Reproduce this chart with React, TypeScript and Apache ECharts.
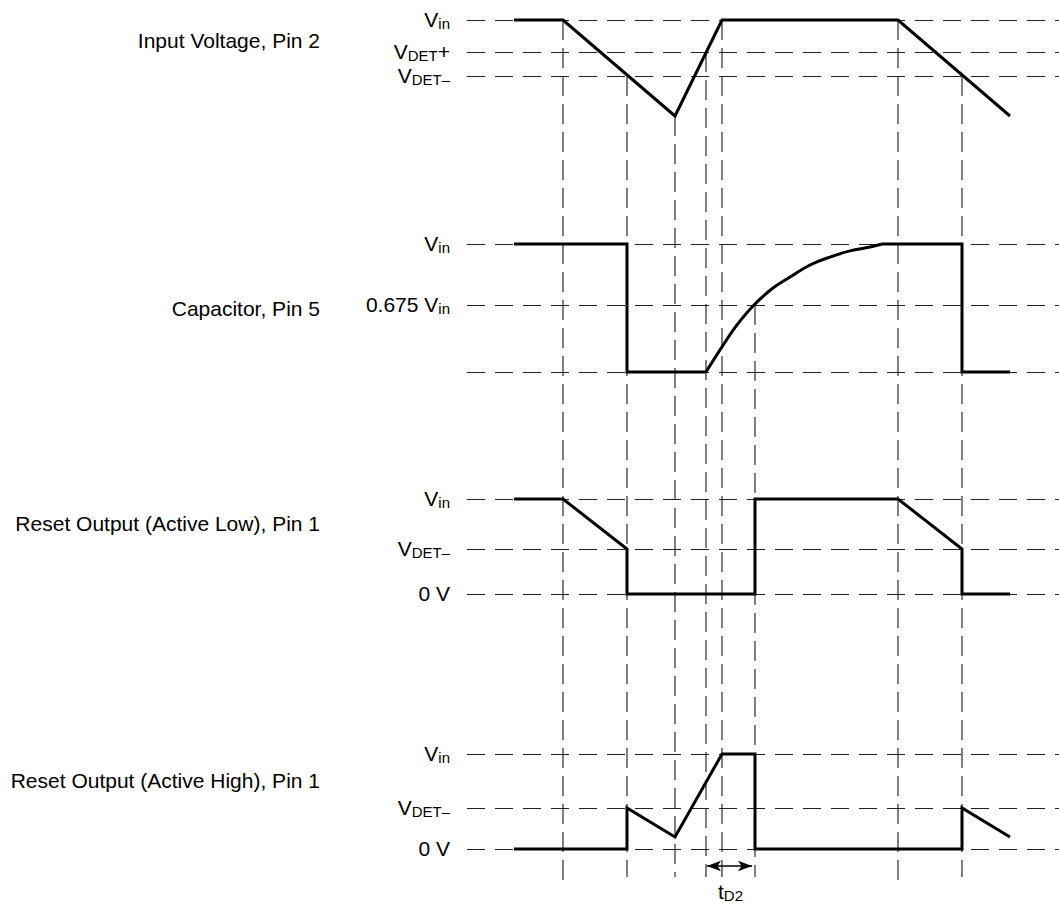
import React, { useEffect, useRef } from "react";
import * as echarts from "echarts";

const FONT = "Liberation Sans, Arial, Helvetica, sans-serif";

// ---- data (time in arbitrary units, voltages in drawing units, Vin = 5) ----
const timeMin = 0;
const timeMax = 592;

const panelNames = [
  "Input Voltage, Pin 2",
  "Capacitor, Pin 5",
  "Reset Output (Active Low), Pin 1",
  "Reset Output (Active High), Pin 1",
];

const inputRange = [2, 5];
const inputLevels = [5, 4, 3.25];
const inputLevelLabels = ["{m|V}{s|in}", "{m|V}{s|DET}{m|+}", "{m|V}{s|DET–}"];
const inputVoltage = [[47, 5], [96, 5], [208, 2], [255, 5], [431, 5], [543, 2]];

const capRange = [0, 5];
const capLevels = [5, 2.62, 0];
const capLevelLabels = ["{m|V}{s|in}", "{m|0.675 V}{s|in}", ""];
const capDischarge = [[47, 5], [160, 5], [160, 0], [239, 0]];
const capCharge = [
  [239, 0], [255, 0.98], [270, 1.84], [287, 2.62], [306, 3.28], [323, 3.71],
  [343, 4.18], [363, 4.49], [383, 4.73], [403, 4.88], [415, 5],
];
const capHold = [[415, 5], [495, 5], [495, 0], [543, 0]];

const lowRange = [0, 5];
const lowLevels = [5, 2.37, 0];
const lowLevelLabels = ["{m|V}{s|in}", "{m|V}{s|DET–}", "{m|0 V}"];
const resetLow = [
  [47, 5], [96, 5], [160, 2.37], [160, 0], [288, 0], [288, 5],
  [431, 5], [495, 2.37], [495, 0], [543, 0],
];

const highRange = [0, 5];
const highLevels = [5, 2.16, 0];
const highLevelLabels = ["{m|V}{s|in}", "{m|V}{s|DET–}", "{m|0 V}"];
const resetHigh = [
  [47, 0], [160, 0], [160, 2.16], [208, 0.63], [255, 5], [288, 5],
  [288, 0], [495, 0], [495, 2.16], [543, 0.63],
];

// vertical event markers: time, and the level (in a panel) where each begins
const eventTimes = [96, 160, 208, 239, 255, 288, 431, 495];
const eventAnchorPanel = [0, 0, 0, 0, 0, 1, 0, 0];
const eventAnchorLevel = [5, 3.25, 2, 4, 5, 2.62, 5, 3.25];

// delay tD2 between these times
const tD2 = [240, 285];
const tD2Label = "{m|t}{s|D2}";

// ---- layout ----
const W = 1059;
const H = 903;
const GRID_LEFT = 467;
const panelTops = [20, 244, 499, 754];
const panelHeights = [96, 128, 95, 95];
const panelLabelY = [40, 308, 523, 780];
const markerEnd = [885, 877, 877, 877, 877, 877, 885, 877];
const arrowY = 866;

const RICH = {
  m: { fontSize: 21, fontFamily: FONT, color: "#000", lineHeight: 22, verticalAlign: "top" },
  s: { fontSize: 15, fontFamily: FONT, color: "#000", lineHeight: 15, padding: [9, 0, 0, 0], verticalAlign: "bottom" },
};

const waveStyle = { color: "#000", width: 3, join: "miter", cap: "butt" };

function levelMarkLine(levels: number[], labels: string[]) {
  return {
    silent: true,
    symbol: ["none", "none"],
    animation: false,
    lineStyle: { type: [18, 10], color: "#222", width: 1 },
    data: levels.map((v, i) => ({
      yAxis: v,
      label: {
        show: labels[i] !== "",
        position: "start",
        distance: 17,
        formatter: labels[i],
        rich: RICH,
        color: "#000",
      },
    })),
  };
}

function wave(data: number[][], idx: number, extra: any = {}) {
  return {
    type: "line",
    xAxisIndex: idx,
    yAxisIndex: idx,
    data,
    symbol: "none",
    showSymbol: false,
    clip: false,
    z: 5,
    lineStyle: waveStyle,
    silent: true,
    ...extra,
  };
}

export default function App() {
  const ref = useRef<HTMLDivElement>(null);

  useEffect(() => {
    document.body.style.margin = "0";
    const chart = echarts.init(ref.current!, null, { renderer: "svg" });
    const ranges = [inputRange, capRange, lowRange, highRange];

    const grids: any[] = panelTops.map((t, i) => ({
      left: GRID_LEFT, right: 0, top: t, height: panelHeights[i],
    }));
    grids.push({ left: GRID_LEFT, right: 0, top: 0, height: H });

    const xAxes = grids.map((_, i) => ({
      type: "value", gridIndex: i, min: timeMin, max: timeMax, show: false,
    }));
    const yAxes: any[] = ranges.map((r, i) => ({
      type: "value", gridIndex: i, min: r[0], max: r[1], show: false,
    }));
    yAxes.push({ type: "value", gridIndex: 4, min: 0, max: H, inverse: true, show: false });

    const baseSeries: any[] = [
      wave(inputVoltage, 0, { markLine: levelMarkLine(inputLevels, inputLevelLabels) }),
      wave(capDischarge, 1, { markLine: levelMarkLine(capLevels, capLevelLabels) }),
      wave(capCharge, 1, { smooth: 0.4 }),
      wave(capHold, 1),
      wave(resetLow, 2, { markLine: levelMarkLine(lowLevels, lowLevelLabels) }),
      wave(resetHigh, 3, { markLine: levelMarkLine(highLevels, highLevelLabels) }),
    ];

    const graphic: any[] = panelNames.map((name, i) => ({
      type: "text",
      x: 320,
      y: panelLabelY[i],
      silent: true,
      style: {
        text: name, fontSize: 21, fontFamily: FONT, fill: "#000",
        align: "right", verticalAlign: "middle",
      },
    }));

    chart.setOption({
      animation: false,
      grid: grids,
      xAxis: xAxes,
      yAxis: yAxes,
      series: baseSeries,
      graphic,
    });

    const markerSeries = eventTimes.map((t, i) => {
      const y0 = chart.convertToPixel({ yAxisIndex: eventAnchorPanel[i] }, eventAnchorLevel[i]) as number;
      return {
        type: "line",
        xAxisIndex: 4,
        yAxisIndex: 4,
        data: [[t, y0], [t, markerEnd[i]]],
        symbol: "none",
        clip: false,
        z: 1,
        silent: true,
        lineStyle: { color: "#000", width: 1, type: [20, 8] },
      };
    });

    const arrowSeries = {
      type: "line",
      xAxisIndex: 4,
      yAxisIndex: 4,
      data: [],
      silent: true,
      markLine: {
        silent: true,
        animation: false,
        symbol: ["arrow", "arrow"],
        symbolSize: [8, 14],
        lineStyle: { type: "solid", color: "#000", width: 1.5 },
        label: { show: false },
        data: [[{ coord: [tD2[0], arrowY] }, { coord: [tD2[1], arrowY] }]],
      },
    };

    const tD2X = chart.convertToPixel({ xAxisIndex: 4 }, (tD2[0] + tD2[1]) / 2) as number;

    chart.setOption({
      series: [...baseSeries, ...markerSeries, arrowSeries],
      graphic: [
        ...graphic,
        {
          type: "text",
          x: tD2X + 1,
          y: 892,
          silent: true,
          style: {
            text: tD2Label, rich: RICH, fill: "#000",
            align: "center", verticalAlign: "middle",
          },
        },
      ],
    });

    return () => chart.dispose();
  }, []);

  return <div ref={ref} style={{ width: W, height: H }} />;
}
